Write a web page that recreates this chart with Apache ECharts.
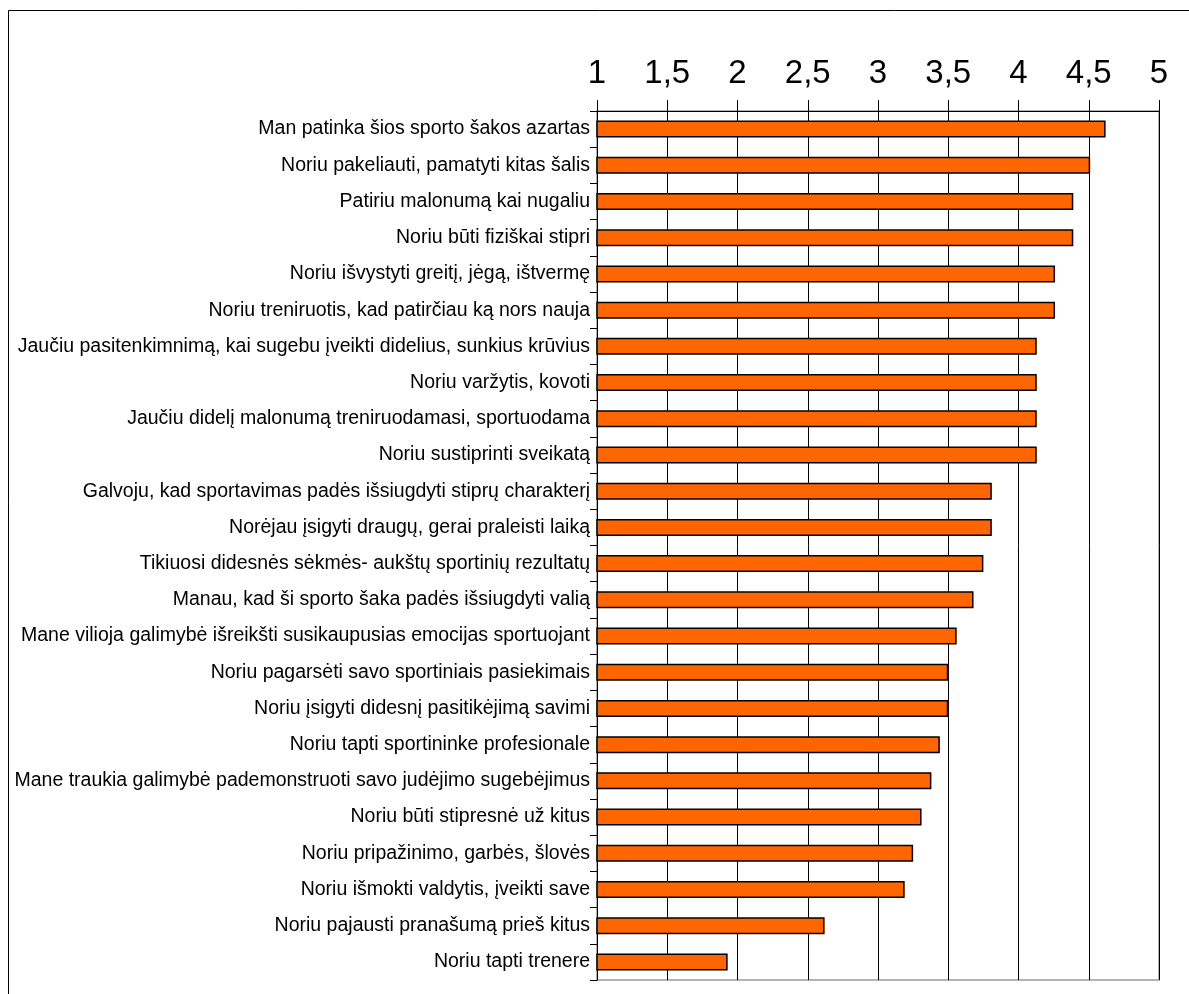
<!DOCTYPE html>
<html>
<head>
<meta charset="utf-8">
<script src="https://cdn.jsdelivr.net/npm/echarts@6/dist/echarts.min.js"></script>
<style>
html,body{margin:0;padding:0;background:#fff;}
#chart{width:1189px;height:994px;}
</style>
</head>
<body>
<div id="chart"></div>
<script>
const categories = [
  "Man patinka šios sporto šakos azartas",
  "Noriu pakeliauti, pamatyti kitas šalis",
  "Patiriu malonumą kai nugaliu",
  "Noriu būti fiziškai stipri",
  "Noriu išvystyti greitį, jėgą, ištvermę",
  "Noriu treniruotis, kad patirčiau ką nors nauja",
  "Jaučiu pasitenkimnimą, kai sugebu įveikti didelius, sunkius krūvius",
  "Noriu varžytis, kovoti",
  "Jaučiu didelį malonumą treniruodamasi, sportuodama",
  "Noriu sustiprinti sveikatą",
  "Galvoju, kad sportavimas padės išsiugdyti stiprų charakterį",
  "Norėjau įsigyti draugų, gerai praleisti laiką",
  "Tikiuosi didesnės sėkmės- aukštų sportinių rezultatų",
  "Manau, kad ši sporto šaka padės išsiugdyti valią",
  "Mane vilioja galimybė išreikšti susikaupusias emocijas sportuojant",
  "Noriu pagarsėti savo sportiniais pasiekimais",
  "Noriu įsigyti didesnį pasitikėjimą savimi",
  "Noriu tapti sportininke profesionale",
  "Mane traukia galimybė pademonstruoti savo judėjimo sugebėjimus",
  "Noriu būti stipresnė už kitus",
  "Noriu pripažinimo, garbės, šlovės",
  "Noriu išmokti valdytis, įveikti save",
  "Noriu pajausti pranašumą prieš kitus",
  "Noriu tapti trenere"
];
const values = [4.62, 4.51, 4.39, 4.39, 4.26, 4.26, 4.13, 4.13, 4.13, 4.13,
  3.81, 3.81, 3.75, 3.68, 3.56, 3.50, 3.50, 3.44, 3.38, 3.31, 3.25, 3.19, 2.62, 1.93];
const axisMin = 1, axisMax = 5, axisStep = 0.5;

const FONT = "'Liberation Sans Narrow', 'Arial Narrow', 'Liberation Sans', Arial, sans-serif";
const chart = echarts.init(document.getElementById('chart'));
chart.setOption({
  animation: false,
  backgroundColor: '#fff',
  graphic: [{
    type: 'rect', silent: true,
    shape: {x: 8.5, y: 10.5, width: 3000, height: 3000},
    style: {fill: 'none', stroke: '#000', lineWidth: 1}
  }],
  grid: {
    left: 597, right: 30, top: 111, bottom: 14,
    containLabel: false, outerBoundsMode: 'none',
    show: true, borderColor: '#999', borderWidth: 1.5, backgroundColor: 'transparent'
  },
  xAxis: {
    type: 'value', position: 'top', min: axisMin, max: axisMax, interval: axisStep,
    axisLine: {show: true, lineStyle: {color: '#000', width: 1}},
    axisTick: {show: true, inside: false, length: 11, lineStyle: {color: '#000'}},
    axisLabel: {
      color: '#000', fontFamily: FONT, fontSize: 33, margin: 21,
      formatter: v => String(v).replace('.', ',')
    },
    splitLine: {show: true, lineStyle: {color: '#000', width: 1}}
  },
  yAxis: {
    type: 'category', data: categories, inverse: true,
    axisLine: {show: true, lineStyle: {color: '#000', width: 1}},
    axisTick: {show: true, length: 7, lineStyle: {color: '#000'}},
    axisLabel: {color: '#000', fontFamily: FONT, fontSize: 19.5, margin: 7},
    splitLine: {show: false}
  },
  series: [{
    type: 'bar', data: values, barWidth: 17,
    itemStyle: {color: '#FF6600', borderColor: '#000', borderWidth: 1.5}
  }]
});
</script>
</body>
</html>
